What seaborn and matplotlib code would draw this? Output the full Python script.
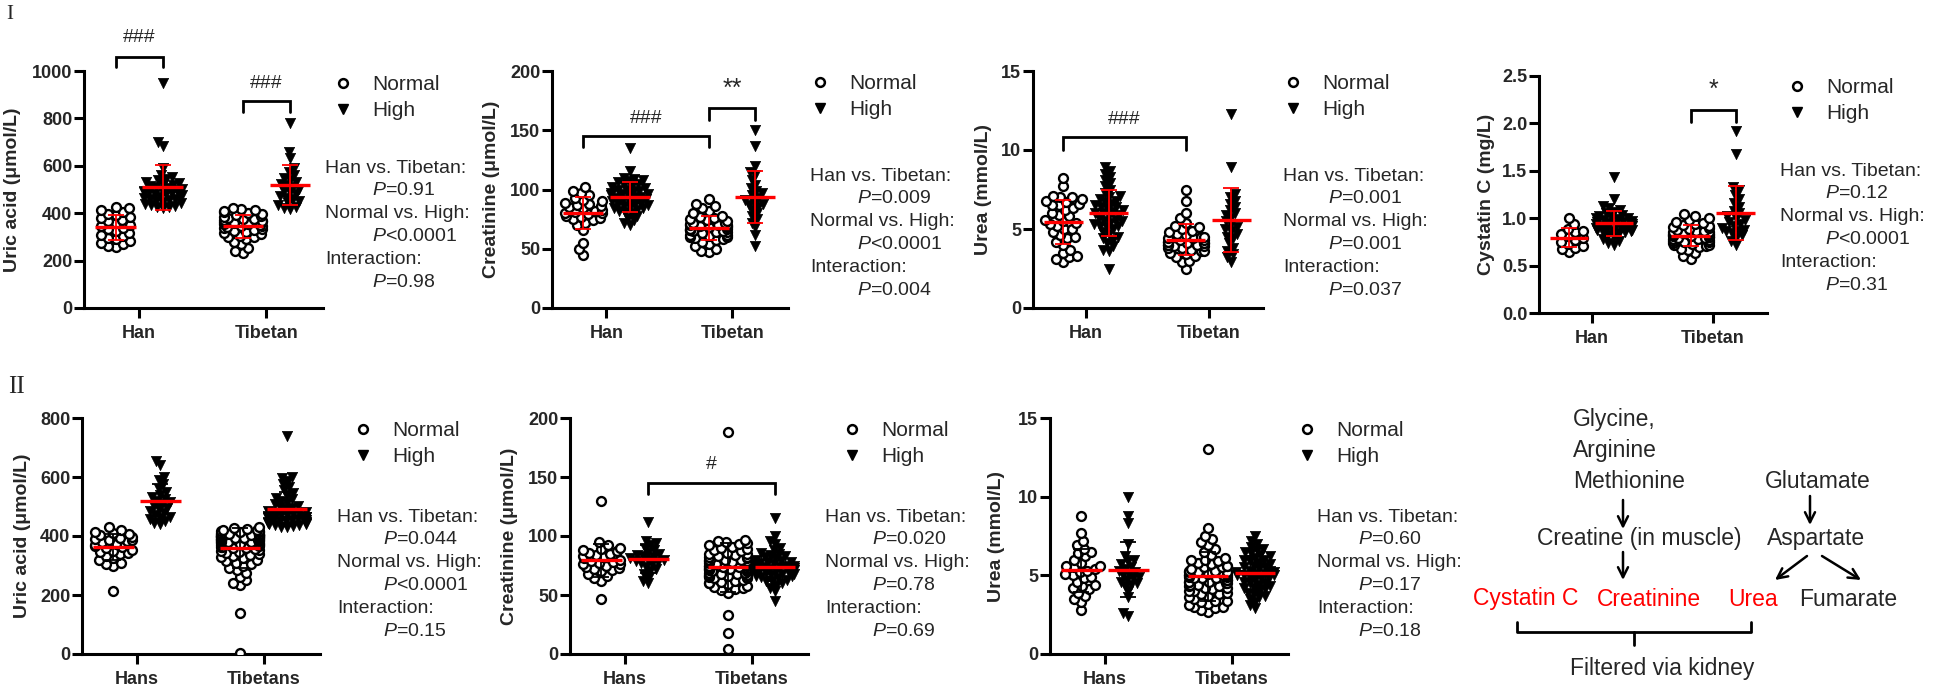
import numpy as np
import matplotlib
matplotlib.use("Agg")
import matplotlib.pyplot as plt
import seaborn as sns
from matplotlib.lines import Line2D
import warnings
warnings.filterwarnings("ignore")

# ---------------- data ----------------
GROUPS = ["Normal", "High"]
CATS_1 = ["Han", "Tibetan"]
CATS_2 = ["Hans", "Tibetans"]

# Row I - uric acid (umol/L)
r1_ua_han_n = [258, 262, 268, 275, 282, 290, 296, 302, 310, 318, 325, 332, 338, 345, 352, 358, 365, 372, 378, 385, 392, 398, 405, 412, 420, 425]
r1_ua_han_h = [420, 425, 428, 432, 435, 440, 443, 447, 450, 454, 458, 462, 466, 470, 473, 476, 479, 482, 485, 488, 491, 494, 497, 500, 503, 507, 511, 515, 519, 523, 528, 533, 538, 545, 552, 560, 590, 685, 700, 950]
r1_ua_tib_n = [232, 240, 255, 268, 280, 290, 298, 300, 305, 312, 318, 322, 326, 330, 334, 338, 341, 344, 347, 350, 353, 356, 359, 362, 365, 368, 371, 374, 377, 380, 384, 388, 392, 396, 400, 404, 408, 412, 416, 420]
r1_ua_tib_h = [418, 422, 428, 435, 442, 450, 458, 465, 472, 480, 488, 495, 502, 510, 518, 525, 532, 540, 548, 560, 575, 590, 635, 660, 780]

# Row I - creatinine (umol/L)
r1_cr_han_n = [45, 50, 55, 66, 70, 72, 74, 75, 76, 77, 78, 79, 80, 80, 81, 82, 83, 84, 85, 86, 87, 88, 89, 90, 91, 93, 95, 97, 99, 102]
r1_cr_han_h = [70, 72, 74, 76, 78, 80, 81, 82, 83, 84, 84, 85, 86, 87, 88, 88, 89, 90, 90, 91, 92, 93, 93, 94, 95, 95, 96, 96, 97, 98, 99, 100, 100, 101, 102, 103, 104, 105, 106, 107, 108, 109, 110, 116, 135]
r1_cr_tib_n = [47, 48, 50, 52, 54, 56, 57, 58, 59, 60, 60, 61, 62, 62, 63, 64, 64, 65, 65, 66, 66, 67, 67, 68, 68, 69, 69, 70, 70, 70, 71, 72, 72, 73, 74, 75, 76, 77, 78, 80, 82, 84, 86, 88, 92]
r1_cr_tib_h = [52, 62, 68, 72, 75, 78, 80, 83, 85, 87, 88, 89, 91, 93, 95, 97, 99, 101, 104, 108, 112, 115, 120, 137, 150]

# Row I - urea (mmol/L)
r1_ur_han_n = [2.9, 3.1, 3.2, 3.3, 3.5, 3.7, 4.0, 4.2, 4.4, 4.5, 4.6, 4.8, 5.0, 5.0, 5.2, 5.3, 5.4, 5.5, 5.6, 5.8, 5.9, 6.0, 6.2, 6.3, 6.5, 6.5, 6.6, 6.7, 6.8, 6.9, 7.0, 7.0, 7.1, 7.7, 8.2]
r1_ur_han_h = [2.5, 3.6, 3.7, 3.9, 4.1, 4.3, 4.4, 4.5, 4.7, 4.8, 5.0, 5.1, 5.2, 5.2, 5.3, 5.4, 5.5, 5.5, 5.6, 5.7, 5.8, 5.9, 6.0, 6.0, 6.1, 6.2, 6.3, 6.4, 6.4, 6.5, 6.6, 6.7, 6.8, 6.9, 7.0, 7.1, 7.3, 7.5, 7.7, 7.9, 8.1, 8.3, 8.5, 8.7, 8.9]
r1_ur_tib_n = [2.5, 2.9, 3.0, 3.2, 3.3, 3.4, 3.5, 3.6, 3.6, 3.7, 3.8, 3.8, 3.9, 3.9, 4.0, 4.0, 4.0, 4.1, 4.1, 4.1, 4.2, 4.2, 4.3, 4.3, 4.4, 4.4, 4.5, 4.5, 4.6, 4.7, 4.8, 4.9, 5.0, 5.1, 5.2, 5.4, 5.7, 6.0, 6.8, 7.5]
r1_ur_tib_h = [2.9, 3.2, 3.4, 3.6, 3.8, 4.1, 4.4, 4.5, 4.7, 4.9, 5.0, 5.1, 5.3, 5.5, 5.7, 5.9, 6.0, 6.2, 6.4, 6.6, 6.8, 7.0, 7.2, 8.9, 12.3]

# Row I - cystatin C (mg/L)
r1_cc_han_n = [0.64, 0.67, 0.69, 0.71, 0.73, 0.75, 0.77, 0.79, 0.81, 0.83, 0.85, 0.87, 0.89, 0.94, 1.00]
r1_cc_han_h = [0.72, 0.74, 0.76, 0.78, 0.80, 0.82, 0.84, 0.85, 0.85, 0.86, 0.87, 0.88, 0.88, 0.89, 0.90, 0.90, 0.91, 0.92, 0.92, 0.93, 0.94, 0.94, 0.95, 0.96, 0.96, 0.97, 0.98, 0.99, 1.00, 1.00, 1.01, 1.02, 1.03, 1.05, 1.07, 1.09, 1.11, 1.13, 1.20, 1.43]
r1_cc_tib_n = [0.57, 0.60, 0.63, 0.66, 0.68, 0.70, 0.71, 0.72, 0.72, 0.73, 0.74, 0.75, 0.75, 0.76, 0.77, 0.78, 0.78, 0.79, 0.79, 0.80, 0.80, 0.81, 0.81, 0.82, 0.82, 0.83, 0.83, 0.84, 0.85, 0.85, 0.86, 0.87, 0.88, 0.89, 0.90, 0.91, 0.92, 0.93, 0.94, 0.95, 0.96, 0.98, 1.00, 1.02, 1.04]
r1_cc_tib_h = [0.72, 0.76, 0.79, 0.82, 0.84, 0.86, 0.87, 0.88, 0.90, 0.92, 0.94, 0.96, 0.98, 1.00, 1.02, 1.05, 1.08, 1.12, 1.16, 1.20, 1.25, 1.30, 1.33, 1.68, 1.92]

# Row II - uric acid (umol/L)
r2_ua_han_n = [215, 300, 305, 310, 318, 325, 332, 338, 342, 346, 350, 354, 358, 362, 366, 370, 374, 378, 382, 385, 386, 390, 394, 398, 402, 406, 410, 415, 420, 430]
r2_ua_han_h = [440, 445, 452, 458, 462, 465, 472, 478, 485, 490, 496, 502, 508, 514, 520, 526, 532, 540, 548, 560, 575, 590, 600, 640, 655]
r2_ua_tib_n = [5, 140, 235, 242, 250, 262, 275, 285, 292, 298, 304, 310, 315, 320, 324, 328, 332, 336, 340, 343, 346, 349, 352, 355, 358, 360, 362, 364, 366, 368, 370, 372, 374, 375, 376, 378, 380, 381, 383, 384, 385, 386, 388, 389, 390, 391, 392, 393, 394, 395, 396, 396, 397, 398, 399, 400, 401, 402, 402, 403, 404, 405, 406, 407, 408, 410, 412, 414, 416, 418, 420, 422, 425, 428, 430]
r2_ua_tib_h = [430, 432, 434, 436, 438, 440, 442, 444, 445, 446, 448, 450, 452, 454, 455, 456, 458, 460, 462, 464, 465, 466, 468, 470, 472, 474, 476, 478, 480, 483, 486, 490, 494, 498, 502, 507, 512, 518, 524, 530, 538, 546, 555, 565, 575, 585, 595, 600, 740]

# Row II - creatinine (umol/L)
r2_cr_han_n = [47, 62, 64, 66, 68, 70, 71, 72, 73, 74, 75, 76, 76, 77, 78, 79, 80, 81, 82, 83, 84, 85, 86, 87, 88, 89, 90, 92, 95, 130]
r2_cr_han_h = [60, 62, 65, 68, 70, 72, 74, 76, 77, 78, 79, 80, 80, 81, 82, 83, 84, 85, 86, 88, 90, 92, 94, 96, 112]
r2_cr_tib_n = [4, 18, 33, 52, 54, 55, 56, 57, 58, 59, 60, 60, 61, 62, 63, 64, 64, 65, 65, 65, 66, 66, 67, 67, 68, 68, 69, 69, 70, 70, 70, 71, 71, 72, 72, 72, 73, 73, 74, 74, 75, 75, 75, 76, 76, 77, 77, 78, 78, 79, 79, 80, 80, 80, 81, 81, 82, 82, 83, 84, 85, 85, 86, 87, 88, 89, 90, 91, 92, 93, 94, 95, 96, 97, 188]
r2_cr_tib_h = [45, 53, 56, 58, 60, 62, 62, 63, 64, 65, 66, 66, 67, 68, 68, 69, 69, 70, 70, 70, 71, 71, 72, 72, 73, 73, 74, 74, 74, 75, 75, 76, 76, 77, 78, 78, 79, 80, 81, 82, 83, 84, 85, 86, 88, 90, 93, 96, 100, 115]

# Row II - urea (mmol/L)
r2_ur_han_n = [2.8, 3.3, 3.5, 3.7, 3.9, 4.1, 4.2, 4.3, 4.4, 4.6, 4.8, 4.9, 5.0, 5.1, 5.2, 5.3, 5.4, 5.5, 5.6, 5.6, 5.8, 6.0, 6.2, 6.4, 6.5, 6.7, 6.9, 7.2, 7.7, 8.8]
r2_ur_han_h = [2.4, 2.6, 3.6, 4.0, 4.3, 4.4, 4.5, 4.6, 4.7, 4.8, 4.9, 5.0, 5.1, 5.2, 5.3, 5.4, 5.5, 5.7, 5.9, 6.0, 6.2, 7.0, 8.3, 8.8, 10.0]
r2_ur_tib_n = [2.7, 2.8, 2.9, 3.0, 3.0, 3.1, 3.2, 3.3, 3.4, 3.4, 3.5, 3.6, 3.7, 3.8, 3.8, 3.9, 4.0, 4.0, 4.1, 4.2, 4.2, 4.3, 4.3, 4.4, 4.4, 4.5, 4.5, 4.6, 4.6, 4.6, 4.7, 4.7, 4.8, 4.8, 4.8, 4.9, 4.9, 5.0, 5.0, 5.0, 5.0, 5.1, 5.1, 5.2, 5.2, 5.2, 5.3, 5.3, 5.4, 5.5, 5.5, 5.6, 5.6, 5.7, 5.8, 5.9, 6.0, 6.0, 6.1, 6.3, 6.5, 6.7, 6.9, 7.1, 7.3, 7.5, 8.0, 13.0]
r2_ur_tib_h = [2.9, 3.1, 3.3, 3.5, 3.6, 3.7, 3.8, 3.9, 4.0, 4.1, 4.2, 4.2, 4.3, 4.4, 4.5, 4.5, 4.6, 4.7, 4.8, 4.8, 4.9, 5.0, 5.0, 5.0, 5.1, 5.1, 5.2, 5.2, 5.3, 5.3, 5.4, 5.5, 5.5, 5.6, 5.7, 5.8, 5.9, 6.0, 6.0, 6.1, 6.2, 6.3, 6.4, 6.5, 6.6, 6.7, 6.8, 7.0, 7.2, 7.5]

# statistics text
STATS = {
    "r1_ua": ["0.91", "<0.0001", "0.98"],
    "r1_cr": ["0.009", "<0.0001", "0.004"],
    "r1_ur": ["0.001", "0.001", "0.037"],
    "r1_cc": ["0.12", "<0.0001", "0.31"],
    "r2_ua": ["0.044", "<0.0001", "0.15"],
    "r2_cr": ["0.020", "0.78", "0.69"],
    "r2_ur": ["0.60", "0.17", "0.18"],
}

# ---------------- style ----------------
sns.set_style("ticks")
plt.rcParams["font.family"] = ["Liberation Sans", "DejaVu Sans"]
plt.rcParams["mathtext.fontset"] = "custom"
plt.rcParams["mathtext.it"] = "Liberation Sans:italic"
plt.rcParams["mathtext.rm"] = "Liberation Sans"

W, H = 1949, 691
fig = plt.figure(figsize=(W / 100, H / 100), dpi=100)

POS = [0.0, 1.0, 2.7, 3.7]
XLIM = (-0.67, 4.40)
TICKPOS = [0.5, 3.2]
LW_AX = 2.2
# marker sizes: (layout size used for the swarm, drawn size)
CIRC = (3.6, 6.4)
TRI = (3.8, 7.4)


def add_ax(left, top, right, bottom):
    return fig.add_axes([left / W, 1 - bottom / H, (right - left) / W, (bottom - top) / H])


panels = [
    dict(box=(84, 71, 323, 308), data=[r1_ua_han_n, r1_ua_han_h, r1_ua_tib_n, r1_ua_tib_h],
         ylim=1000, yticks=[0, 200, 400, 600, 800, 1000], ytl=["0", "200", "400", "600", "800", "1000"],
         ylabel="Uric acid (\u03bcmol/L)", ylab_x=21, cats=CATS_1, sd="red",
         leg=(343, 87), stats=(325, 168, 372), key="r1_ua",
         brackets=[(0, 1, 1017, 1059, 1143, "###", 14), (2.7, 3.7, 827, 873, 949, "###", 14)]),
    dict(box=(552, 71, 788, 308), data=[r1_cr_han_n, r1_cr_han_h, r1_cr_tib_n, r1_cr_tib_h],
         ylim=200, yticks=[0, 50, 100, 150, 200], ytl=["0", "50", "100", "150", "200"],
         ylabel="Creatinine (\u03bcmol/L)", ylab_x=500, cats=CATS_1, sd="red",
         leg=(820, 86), stats=(810, 176, 857), key="r1_cr",
         brackets=[(0, 2.7, 136, 145, 160, "###", 14), (2.7, 3.7, 159, 169, 185, "**", 18)]),
    dict(box=(1033, 71, 1263, 308), data=[r1_ur_han_n, r1_ur_han_h, r1_ur_tib_n, r1_ur_tib_h],
         ylim=15, yticks=[0, 5, 10, 15], ytl=["0", "5", "10", "15"],
         ylabel="Urea (mmol/L)", ylab_x=992, cats=CATS_1, sd="red",
         leg=(1293, 86), stats=(1283, 176, 1328), key="r1_ur",
         brackets=[(0, 2.7, 10.0, 10.8, 11.9, "###", 14)]),
    dict(box=(1539, 76, 1767, 313), data=[r1_cc_han_n, r1_cc_han_h, r1_cc_tib_n, r1_cc_tib_h],
         ylim=2.5, yticks=[0, 0.5, 1.0, 1.5, 2.0, 2.5], ytl=["0.0", "0.5", "1.0", "1.5", "2.0", "2.5"],
         ylabel="Cystatin C (mg/L)", ylab_x=1495, cats=CATS_1, sd="red",
         leg=(1797, 90), stats=(1780, 171, 1825), key="r1_cc",
         brackets=[(2.7, 3.7, 2.01, 2.14, 2.35, "*", 18)]),
    dict(box=(82, 418, 320, 654), data=[r2_ua_han_n, r2_ua_han_h, r2_ua_tib_n, r2_ua_tib_h],
         ylim=800, yticks=[0, 200, 400, 600, 800], ytl=["0", "200", "400", "600", "800"],
         ylabel="Uric acid (\u03bcmol/L)", ylab_x=31, cats=CATS_2, sd="black",
         leg=(363, 433), stats=(337, 517, 383), key="r2_ua", brackets=[]),
    dict(box=(570, 418, 808, 654), data=[r2_cr_han_n, r2_cr_han_h, r2_cr_tib_n, r2_cr_tib_h],
         ylim=200, yticks=[0, 50, 100, 150, 200], ytl=["0", "50", "100", "150", "200"],
         ylabel="Creatinine (\u03bcmol/L)", ylab_x=518, cats=CATS_2, sd="black",
         leg=(852, 433), stats=(825, 517, 872), key="r2_cr",
         brackets=[(1, 3.7, 136, 145, 161, "#", 14)]),
    dict(box=(1050, 418, 1288, 654), data=[r2_ur_han_n, r2_ur_han_h, r2_ur_tib_n, r2_ur_tib_h],
         ylim=15, yticks=[0, 5, 10, 15], ytl=["0", "5", "10", "15"],
         ylabel="Urea (mmol/L)", ylab_x=1005, cats=CATS_2, sd="black",
         leg=(1307, 433), stats=(1317, 517, 1358), key="r2_ur", brackets=[]),
]

ov = fig.add_axes([0, 0, 1, 1])
ov.set_xlim(0, W)
ov.set_ylim(H, 0)
ov.axis("off")

LEG_FS = 15
fs_px = LEG_FS * 100 / 72
swarm_colls = []

for p in panels:
    l, t, r, b = p["box"]
    ax = add_ax(l, t, r, b)
    ax.set_xlim(*XLIM)
    ax.set_ylim(0, p["ylim"])
    for i, (pos, vals) in enumerate(zip(POS, p["data"])):
        normal = (i % 2 == 0)
        lay, final = CIRC if normal else TRI
        sns.swarmplot(x=np.full(len(vals), pos), y=np.asarray(vals, float), native_scale=True,
                      orient="x", ax=ax, marker="o" if normal else "v",
                      size=lay, color="black", zorder=3)
        coll = ax.collections[-1]
        if normal:
            coll.set_facecolor("white")
            coll.set_edgecolor("black")
            coll.set_linewidth(1.7)
        else:
            coll.set_facecolor("black")
            coll.set_edgecolor("black")
            coll.set_linewidth(0.5)
        swarm_colls.append((coll, final))
    for pos, vals in zip(POS, p["data"]):
        m = float(np.mean(vals))
        s = float(np.std(vals, ddof=1))
        ax.errorbar(pos, m, yerr=s, color=p["sd"], capsize=6, elinewidth=1.3,
                    capthick=1.3, zorder=6, fmt="none")
        ax.hlines(m, pos - 0.43, pos + 0.43, color="red", lw=2.4, zorder=7)
    ax.set_xlim(*XLIM)
    ax.set_ylim(0, p["ylim"])
    ax.set_xticks(TICKPOS)
    ax.set_xticklabels(p["cats"], fontsize=13, fontweight="bold")
    ax.set_yticks(p["yticks"])
    ax.set_yticklabels(p["ytl"], fontsize=13, fontweight="bold")
    ax.set_xlabel("")
    ax.set_ylabel(p["ylabel"], fontsize=14, fontweight="bold")
    ax.yaxis.set_label_coords((p["ylab_x"] - l) / (r - l), 0.5)
    for side in ["top", "right"]:
        ax.spines[side].set_visible(False)
    for side in ["left", "bottom"]:
        ax.spines[side].set_linewidth(LW_AX)
        ax.spines[side].set_color("black")
    ax.tick_params(axis="both", width=LW_AX, length=7, color="black", direction="out")
    ax.tick_params(axis="y", pad=1.5)
    ax.tick_params(axis="x", pad=5)
    ax.set_facecolor("none")

    for x1, x2, yl, yt, ytxt, lab, fs in p["brackets"]:
        ax.plot([x1, x1, x2, x2], [yl, yt, yt, yl], color="black", lw=2, clip_on=False,
                solid_joinstyle="miter", zorder=8)
        ax.text((x1 + x2) / 2, ytxt, lab, ha="center", va="center", fontsize=fs, clip_on=False)

    # legend
    handles = [Line2D([], [], marker="o", ls="none", mfc="white", mec="black", mew=1.8, ms=6.3),
               Line2D([], [], marker="v", ls="none", mfc="black", mec="black", ms=7.0)]
    mx, my = p["leg"]
    ax.legend(handles, GROUPS, loc="upper left", frameon=False, fontsize=LEG_FS,
              handlelength=0.8, handletextpad=1.0, labelspacing=0.35, borderpad=0,
              borderaxespad=0,
              bbox_to_anchor=((mx - 0.4 * fs_px) / W, 1 - (my - 12) / H),
              bbox_transform=fig.transFigure)

    # stats text
    x0, y0, xp = p["stats"]
    vals = STATS[p["key"]]
    lines = [(x0, "Han vs. Tibetan:"), (xp, "$P$" + ("" if vals[0].startswith("<") else "=") + vals[0]),
             (x0, "Normal vs. High:"), (xp, "$P$" + ("" if vals[1].startswith("<") else "=") + vals[1]),
             (x0, "Interaction:"), (xp, "$P$" + ("" if vals[2].startswith("<") else "=") + vals[2])]
    for k, (xx, txt) in enumerate(lines):
        ov.text(xx, y0 + k * 22.8, txt, fontsize=14, ha="left", va="center")

# roman numerals
ov.text(6, 14, "I", fontsize=15, family="Liberation Serif", ha="left", va="center")
ov.text(8, 387, "II", fontsize=18, family="Liberation Serif", ha="left", va="center")

# ---------------- pathway diagram ----------------
DFS = 16.5
ov.text(1573, 419, "Glycine,", fontsize=DFS, va="center", ha="left")
ov.text(1573, 450, "Arginine", fontsize=DFS, va="center", ha="left")
ov.text(1573, 481, "Methionine", fontsize=DFS, va="center", ha="left")
ov.text(1765, 481, "Glutamate", fontsize=DFS, va="center", ha="left")
ov.text(1537, 539, "Creatine (in muscle)", fontsize=DFS, va="center", ha="left")
ov.text(1767, 539, "Aspartate", fontsize=DFS, va="center", ha="left")
ov.text(1473, 599, "Cystatin C", fontsize=DFS, va="center", ha="left", color="red")
ov.text(1597, 599, "Creatinine", fontsize=DFS, va="center", ha="left", color="red")
ov.text(1728, 599, "Urea", fontsize=DFS, va="center", ha="left", color="red")
ov.text(1799, 599, "Fumarate", fontsize=DFS, va="center", ha="left")
ov.text(1570, 668, "Filtered via kidney", fontsize=DFS, va="center", ha="left")

arrows = [((1623, 500), (1623, 529)), ((1623, 552), (1623, 580)), ((1810, 496), (1810, 525)),
          ((1807, 556), (1775, 580)), ((1822, 556), (1861, 580))]
for (xa, ya), (xb, yb) in arrows:
    ov.annotate("", xy=(xb, yb), xytext=(xa, ya),
                arrowprops=dict(arrowstyle="->", lw=1.8, color="black", mutation_scale=18,
                                shrinkA=0, shrinkB=0))
ov.plot([1517, 1517, 1751, 1751], [622, 632, 632, 622], color="black", lw=2)
ov.plot([1634, 1634], [632, 645], color="black", lw=2)

# lay out the swarms with compact markers, then draw them with the final (overlapping) size
fig.canvas.draw()
for coll, final in swarm_colls:
    if "draw" in coll.__dict__:
        del coll.__dict__["draw"]
    coll.set_sizes([final ** 2])

fig.savefig("out.png", dpi=100)
